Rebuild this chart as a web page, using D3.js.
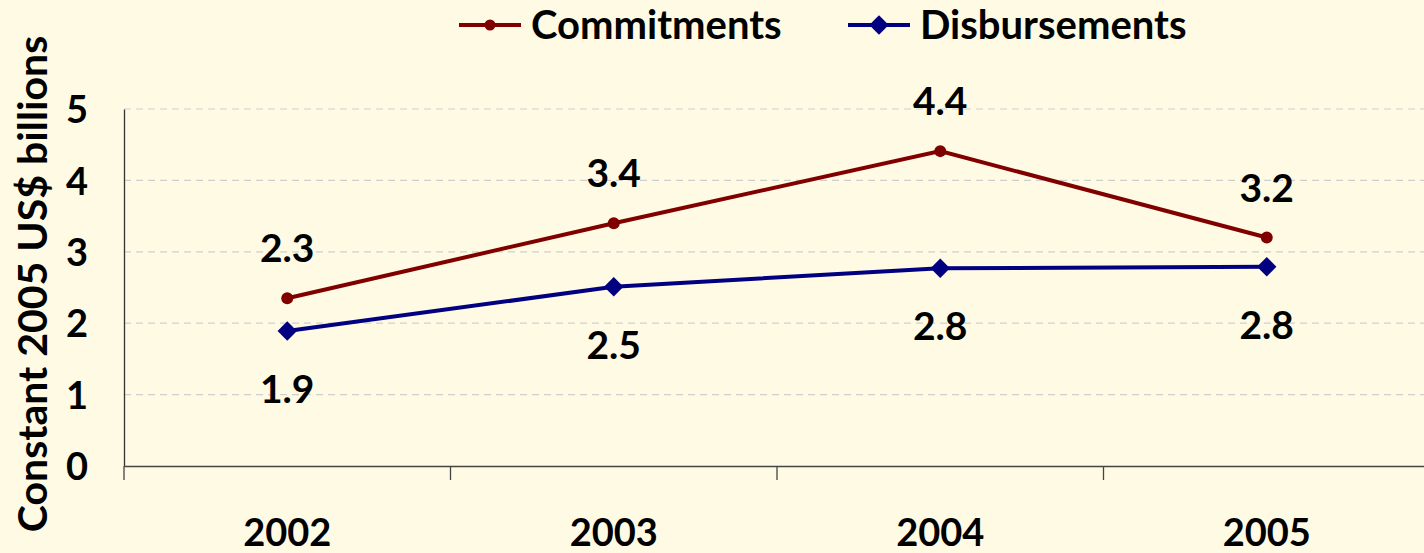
<!DOCTYPE html>
<html>
<head>
<meta charset="utf-8">
<script src="https://cdn.jsdelivr.net/npm/d3@7"></script>
<style>
  html, body { margin: 0; padding: 0; background: #fefae4; overflow: hidden; }
  svg { display: block; font-family: Lato, "Open Sans", sans-serif; font-weight: bold; }
</style>
</head>
<body>
<div id="container"></div>
<script>
const w = 1424;
const h = 553;
const marginL = 124;
const marginT = 109;
const plotBottom = 466;
const plotRight = 1430;

const years = ["2002", "2003", "2004", "2005"];
const commitments = [2.35, 3.4, 4.41, 3.2];
const disbursements = [1.89, 2.51, 2.77, 2.79];
const commitLabels = ["2.3", "3.4", "4.4", "3.2"];
const disburseLabels = ["1.9", "2.5", "2.8", "2.8"];
const yTicks = [0, 1, 2, 3, 4, 5];

const red = "#800000";
const blue = "#000080";

const svg = d3.select("#container")
  .append("svg")
  .attr("width", w)
  .attr("height", h);

const x = d3.scaleBand()
  .domain(years)
  .range([marginL, plotRight])
  .padding(0);

const y = d3.scaleLinear()
  .domain([0, 5])
  .range([plotBottom, marginT]);

const cx = d => x(d) + x.bandwidth() / 2;

// gridlines
svg.append("g")
  .selectAll("line")
  .data(yTicks.filter(t => t > 0))
  .enter()
  .append("line")
  .attr("x1", marginL)
  .attr("x2", plotRight)
  .attr("y1", d => y(d))
  .attr("y2", d => y(d))
  .attr("stroke", "#cfcfcf")
  .attr("stroke-width", 1.2)
  .attr("stroke-dasharray", "7,5");

// y axis
const yAxis = d3.axisLeft(y)
  .tickValues(yTicks)
  .tickFormat(d3.format("d"))
  .tickSize(0)
  .tickPadding(36);
const yG = svg.append("g")
  .attr("transform", `translate(${marginL}, 0)`)
  .call(yAxis);
yG.select(".domain").attr("stroke", "#333").attr("stroke-width", 1.3);
yG.selectAll("text")
  .attr("font-size", 38)
  .attr("font-weight", "bold")
  .attr("font-family", "Lato, sans-serif")
  .attr("fill", "#000")
  .attr("dy", "0.36em");

// x axis: line + boundary ticks
const xAxis = d3.axisBottom(x).tickSize(0).tickPadding(53);
const xG = svg.append("g")
  .attr("transform", `translate(0, ${plotBottom})`)
  .call(xAxis);
xG.select(".domain").attr("stroke", "#444").attr("stroke-width", 1.3);
xG.selectAll("text")
  .attr("font-size", 38)
  .attr("font-weight", "bold")
  .attr("font-family", "Lato, sans-serif")
  .attr("fill", "#000");

const bounds = years.map(d => x(d)).concat([x.range()[1]]);
svg.append("g")
  .selectAll("line")
  .data(bounds)
  .enter()
  .append("line")
  .attr("x1", d => d)
  .attr("x2", d => d)
  .attr("y1", plotBottom)
  .attr("y2", plotBottom + 14)
  .attr("stroke", "#444")
  .attr("stroke-width", 1.3);

// y axis title
svg.append("text")
  .text("Constant 2005 US$ billions")
  .attr("transform", `translate(47, ${(38 + 530) / 2}) rotate(-90)`)
  .attr("text-anchor", "middle")
  .attr("font-size", 41)
  .attr("fill", "#000");

const line = d3.line()
  .x((d, i) => cx(years[i]))
  .y(d => y(d));

// commitments
svg.append("path")
  .datum(commitments)
  .attr("d", line)
  .attr("fill", "none")
  .attr("stroke", red)
  .attr("stroke-width", 4);
svg.append("g")
  .selectAll("circle")
  .data(commitments)
  .enter()
  .append("circle")
  .attr("cx", (d, i) => cx(years[i]))
  .attr("cy", d => y(d))
  .attr("r", 6)
  .attr("fill", red);

// disbursements
svg.append("path")
  .datum(disbursements)
  .attr("d", line)
  .attr("fill", "none")
  .attr("stroke", blue)
  .attr("stroke-width", 4);
const diamond = d3.symbol().type(d3.symbolDiamond2).size(240);
svg.append("g")
  .selectAll("path")
  .data(disbursements)
  .enter()
  .append("path")
  .attr("d", diamond)
  .attr("transform", (d, i) => `translate(${cx(years[i])}, ${y(d)})`)
  .attr("fill", blue);

// data labels
svg.append("g")
  .selectAll("text")
  .data(commitments)
  .enter()
  .append("text")
  .attr("x", (d, i) => cx(years[i]))
  .attr("y", d => y(d) - 50)
  .attr("dy", "0.36em")
  .attr("text-anchor", "middle")
  .attr("font-size", 39)
  .attr("fill", "#000")
  .text((d, i) => commitLabels[i]);

svg.append("g")
  .selectAll("text")
  .data(disbursements)
  .enter()
  .append("text")
  .attr("x", (d, i) => cx(years[i]))
  .attr("y", d => y(d) + 58)
  .attr("dy", "0.36em")
  .attr("text-anchor", "middle")
  .attr("font-size", 39)
  .attr("fill", "#000")
  .text((d, i) => disburseLabels[i]);

// legend
const legend = [
  { name: "Commitments", color: red, x: 459, shape: "circle" },
  { name: "Disbursements", color: blue, x: 848, shape: "diamond" }
];
const lg = svg.append("g").selectAll("g")
  .data(legend)
  .enter()
  .append("g")
  .attr("transform", d => `translate(${d.x}, 25)`);
lg.append("line")
  .attr("x1", 0).attr("x2", 62)
  .attr("y1", 0).attr("y2", 0)
  .attr("stroke", d => d.color)
  .attr("stroke-width", 4);
lg.filter(d => d.shape === "circle")
  .append("circle")
  .attr("cx", 31).attr("cy", 0).attr("r", 5.5)
  .attr("fill", d => d.color);
lg.filter(d => d.shape === "diamond")
  .append("path")
  .attr("d", diamond)
  .attr("transform", "translate(31, 0)")
  .attr("fill", d => d.color);
lg.append("text")
  .attr("x", 72)
  .attr("y", 0)
  .attr("dy", "0.36em")
  .attr("font-size", 40)
  .attr("fill", "#000")
  .text(d => d.name);
</script>
</body>
</html>
